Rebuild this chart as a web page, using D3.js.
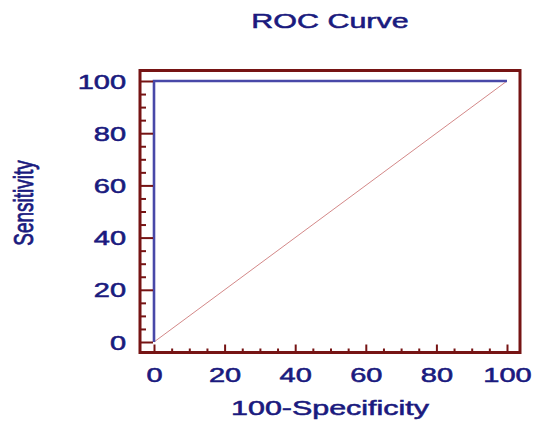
<!DOCTYPE html>
<html><head><meta charset="utf-8">
<script src="https://cdn.jsdelivr.net/npm/d3@7"></script>
<style>body{margin:0;background:#fff}svg{display:block}</style>
</head><body>
<svg id="c" width="534" height="422"></svg>
<script>
const titleText = "ROC Curve";
const xLabel = "100-Specificity";
const yLabel = "Sensitivity";
const majorTicks = [0, 20, 40, 60, 80, 100];
const minorTicks = d3.range(0, 101, 5).filter(v => v % 20 !== 0);
const rocX = [0, 0, 100];
const rocY = [0, 100, 100];
const refX = [0, 100];
const refY = [0, 100];

const SX = 1.45; // horizontal stretch of the original picture
const navy = "#1a1a7e", frameCol = "#761414";
const svg = d3.select("#c");
const x = d3.scaleLinear().domain([0, 100]).range([154, 507]);
const y = d3.scaleLinear().domain([0, 100]).range([342, 81]);
const frame = {l: 140, t: 70.5, r: 520, b: 352.5};
const font = "'Liberation Sans', Arial, sans-serif";

function heavy(sel) {
  sel.attr("fill", navy).attr("stroke", navy).attr("stroke-width", 0.55)
    .style("font-family", font);
}

// reference diagonal
svg.append("path")
  .datum(refX.map((v, i) => [v, refY[i]]))
  .attr("d", d3.line().x(d => x(d[0])).y(d => y(d[1])))
  .attr("fill", "none").attr("stroke", "#c86a6a").attr("stroke-width", 0.8);

// ROC curve
svg.append("path")
  .datum(rocX.map((v, i) => [v, rocY[i]]))
  .attr("d", d3.line().x(d => x(d[0])).y(d => y(d[1])))
  .attr("fill", "none").attr("stroke", "#4848a8").attr("stroke-width", 2.6);

// axes (ticks inward)
function styleAxis(g) {
  g.select(".domain").remove();
  g.selectAll("line").attr("stroke", frameCol).attr("stroke-width", 2);
}
const xMinor = svg.append("g").attr("transform", `translate(0,${frame.b})`)
  .call(d3.axisBottom(x).tickValues(minorTicks).tickSize(-4).tickFormat(""));
styleAxis(xMinor); xMinor.selectAll("text").remove();
const xMajor = svg.append("g").attr("transform", `translate(0,${frame.b})`)
  .call(d3.axisBottom(x).tickValues(majorTicks).tickSize(-8).tickFormat(d3.format("d")));
styleAxis(xMajor);
xMajor.selectAll("text").attr("y", null).attr("dy", null)
  .attr("transform", `translate(0,29.5) scale(${SX},1)`)
  .call(heavy).style("font-size", "20px");

const yMinor = svg.append("g").attr("transform", `translate(${frame.l},0)`)
  .call(d3.axisLeft(y).tickValues(minorTicks).tickSize(-6).tickFormat(""));
styleAxis(yMinor); yMinor.selectAll("text").remove();
const yMajor = svg.append("g").attr("transform", `translate(${frame.l},0)`)
  .call(d3.axisLeft(y).tickValues(majorTicks).tickSize(-13).tickFormat(d3.format("d")));
styleAxis(yMajor);
yMajor.selectAll("text").attr("x", null).attr("dy", null)
  .attr("text-anchor", "end")
  .attr("transform", `translate(-14,7) scale(${SX},1)`)
  .call(heavy).style("font-size", "20px");

// frame
svg.append("rect")
  .attr("x", frame.l).attr("y", frame.t)
  .attr("width", frame.r - frame.l).attr("height", frame.b - frame.t)
  .attr("fill", "none").attr("stroke", frameCol).attr("stroke-width", 3);

// title & labels
svg.append("text").text(titleText)
  .attr("transform", `translate(330,28) scale(${SX},1)`)
  .attr("text-anchor", "middle").call(heavy).style("font-size", "21px");
svg.append("text").text(xLabel)
  .attr("transform", `translate(330,415) scale(${SX},1)`)
  .attr("text-anchor", "middle").call(heavy).style("font-size", "21px");
svg.append("text").text(yLabel)
  .attr("transform", `translate(33,203) scale(${SX},1) rotate(-90)`)
  .attr("text-anchor", "middle").call(heavy).style("font-size", "19px");
</script>
</body></html>
